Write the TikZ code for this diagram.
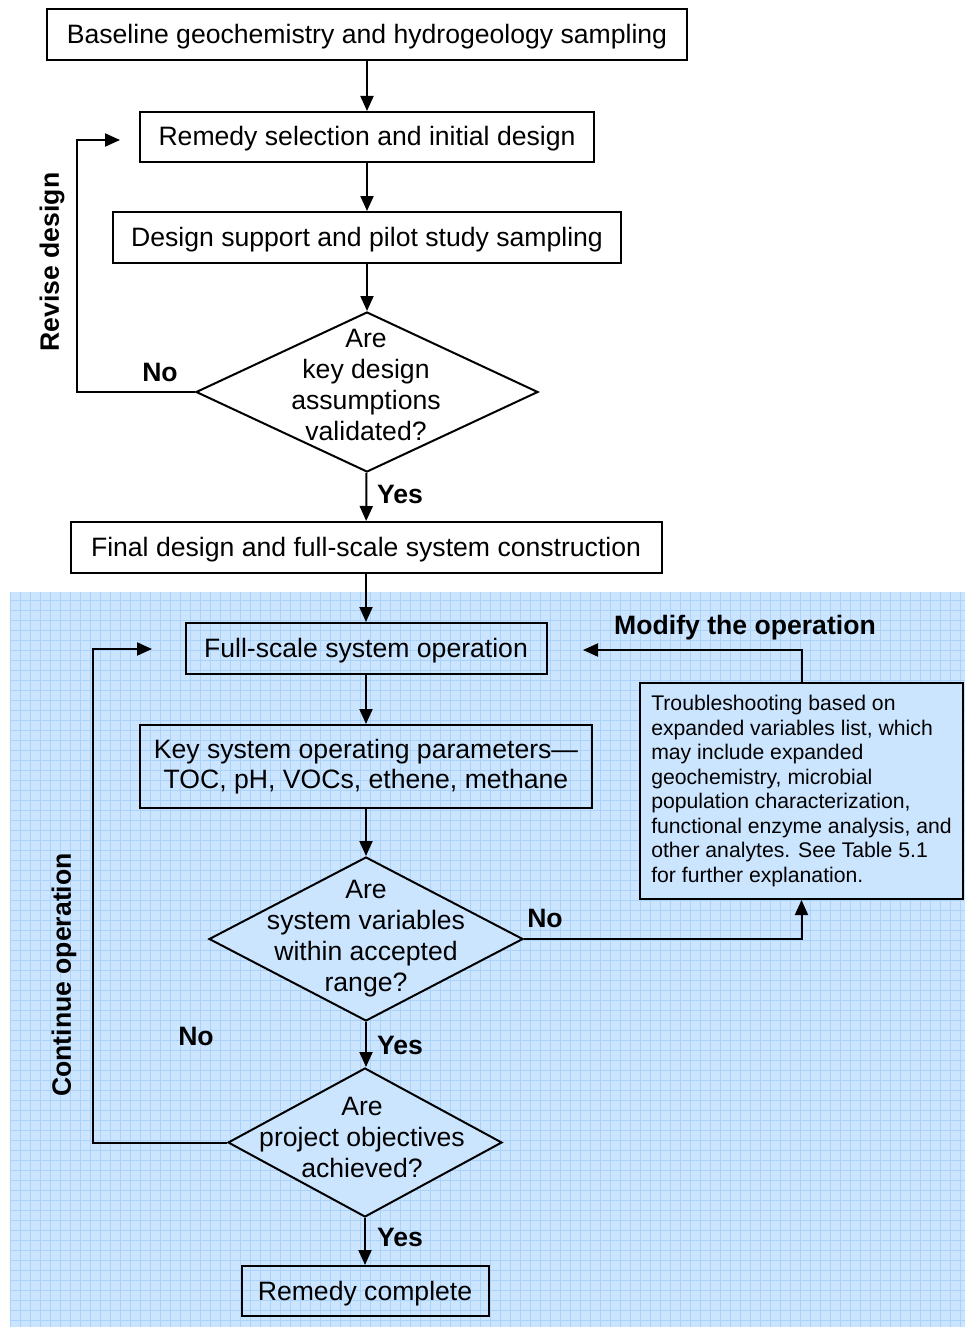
\documentclass[tikz,border=0pt]{standalone}
\usepackage{fontspec}
\setmainfont{Liberation Sans}
\usetikzlibrary{shapes.geometric,arrows.meta}
\definecolor{paleblue}{RGB}{204,229,255}
\definecolor{gridblue}{RGB}{170,210,250}
\tikzset{
 box/.style={draw,line width=2pt,minimum height=51pt,inner sep=0pt,align=center,font=\fontsize{26.6}{31}\selectfont},
 onerow/.style={text height=22pt,text depth=4pt},
 decision/.style={draw,diamond,line width=2pt,inner sep=0pt},
 qtext/.style={align=center,font=\fontsize{26.6}{31}\selectfont},
 answer/.style={font=\fontsize{26.6}{31}\selectfont\bfseries},
 flow/.style={line width=2pt,-{Triangle[length=15pt,width=13pt]}},
}
\begin{document}
\begin{tikzpicture}[x=1pt,y=-1pt]
\useasboundingbox (0,0) rectangle (965,1327);

\fill[paleblue] (10,592) rectangle (965,1327);
\begin{scope}
 \clip (10,592) rectangle (965,1327);
 \draw[gridblue,line width=0.8pt,step=10pt] (0,580) grid (970,1330);
\end{scope}

\node[box,onerow,fill=white,minimum width=640pt] (baseline) at (367,34.5) {Baseline geochemistry and hydrogeology sampling};
\node[box,onerow,fill=white,minimum width=454pt,minimum height=50pt] (select) at (367,137) {Remedy selection and initial design};
\node[box,onerow,fill=white,minimum width=508pt] (pilot) at (367,237.5) {Design support and pilot study sampling};
\node[decision,fill=white,minimum width=342pt,minimum height=160pt] (validq) at (367,392) {};
\node[qtext] (validt) at (366,385) {Are\\key design\\assumptions\\validated?};
\node[box,onerow,fill=white,minimum width=591pt] (final) at (366,547.5) {Final design and full-scale system construction};

\node[box,onerow,minimum width=361pt] (operate) at (366,648.5) {Full-scale system operation};
\node[box,minimum width=452pt,minimum height=83pt] (params) at (366,766.5) {Key system operating parameters---\\[-0.5pt]TOC, pH, VOCs, ethene, methane};
\node[decision,fill=paleblue,minimum width=314pt,minimum height=164pt] (rangeq) at (366,939) {};
\node[qtext] (ranget) at (366,938.5) {Are\\system variables\\within accepted\\range?};
\node[decision,fill=paleblue,minimum width=274pt,minimum height=149pt] (goalq) at (365,1142.5) {};
\node[qtext] (goalt) at (362,1137) {Are\\project objectives\\achieved?};
\node[box,onerow,minimum width=247pt,minimum height=50pt] (done) at (365,1291) {Remedy complete};
\node[draw,line width=2pt,fill=paleblue,minimum width=323pt,minimum height=216pt,align=left,
 font=\fontsize{21.2}{24.5}\selectfont] (trouble) at (801.5,791) {Troubleshooting based on\\expanded variables list, which\\may include expanded\\geochemistry, microbial\\population characterization,\\functional enzyme analysis, and\\other analytes. See Table 5.1\\for further explanation.};

\node[answer] (no1) at (160,372) {No};
\node[answer] (yes1) at (400,494) {Yes};
\node[answer,rotate=90] (revise) at (52,262) {Revise design};
\node[answer] (no2) at (545,918) {No};
\node[answer] (yes2) at (400,1045) {Yes};
\node[answer] (no3) at (196,1036) {No};
\node[answer] (yes3) at (400,1237) {Yes};
\node[answer,rotate=90] (continue) at (64,975) {Continue operation};
\node[answer] (modify) at (745,628) {Modify the operation};

\coordinate (reviseend) at (120,140);
\coordinate (continueend) at (152,649);
\coordinate (modifyend) at (583,650);

\draw[flow] (baseline) -- (select);
\draw[flow] (select) -- (pilot);
\draw[flow] (pilot) -- (validq);
\draw[flow] (validq) -- (final);
\draw[flow] (validq.west) -- ++(-118,0) |- (reviseend);
\draw[flow] (final) -- (operate);
\draw[flow] (operate) -- (params);
\draw[flow] (params) -- (rangeq);
\draw[flow] (rangeq.south) -- (rangeq.south |- goalq.north);
\draw[flow] (rangeq.east) -| (trouble.south);
\draw[flow] (trouble.north) |- (modifyend);
\draw[flow] (goalq) -- (done);
\draw[flow] (goalq.west) -- ++(-134,0) |- (continueend);

\end{tikzpicture}
\end{document}
